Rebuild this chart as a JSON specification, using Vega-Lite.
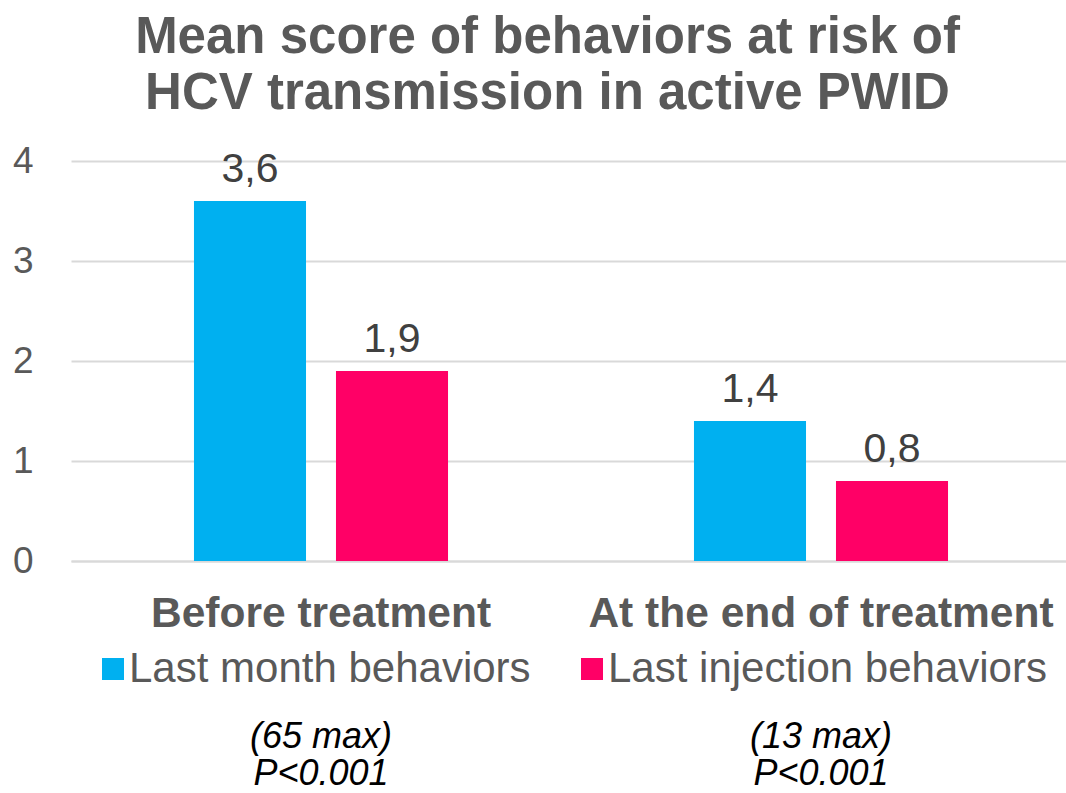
{
  "$schema": "https://vega.github.io/schema/vega-lite/v6.json",
  "width": 995,
  "height": 400,
  "autosize": {"type": "none"},
  "padding": {"left": 71, "top": 161, "right": 0, "bottom": 232},
  "background": "white",
  "config": {
    "font": "Liberation Sans",
    "view": {"stroke": null},
    "locale": {"number": {"decimal": ",", "thousands": ".", "grouping": [3], "currency": ["", "€"]}}
  },
  "title": {
    "text": ["Mean score of behaviors at risk of", "HCV transmission in active PWID"],
    "fontSize": 51,
    "fontWeight": "bold",
    "color": "#595959",
    "anchor": "middle",
    "frame": "group",
    "dx": -21,
    "offset": 22,
    "lineHeight": 56
  },
  "datasets": {
    "bars": [
      {"period": "Before treatment", "series": "Last month behaviors", "score": 3.6},
      {"period": "Before treatment", "series": "Last injection behaviors", "score": 1.9},
      {"period": "At the end of treatment", "series": "Last month behaviors", "score": 1.4},
      {"period": "At the end of treatment", "series": "Last injection behaviors", "score": 0.8}
    ],
    "notes": [
      {"period": "Before treatment", "note": "(65 max)|P<0.001"},
      {"period": "At the end of treatment", "note": "(13 max)|P<0.001"}
    ]
  },
  "layer": [
    {
      "data": {"name": "bars"},
      "mark": {"type": "bar"},
      "encoding": {
        "x": {
          "field": "period", "type": "nominal", "sort": null,
          "scale": {"range": [0, 1000], "paddingInner": 0, "paddingOuter": 0},
          "axis": {
            "title": null, "ticks": false, "domain": true, "domainColor": "#d9d9d9", "domainWidth": 2,
            "labelFontSize": 42.5, "labelFontWeight": "bold", "labelColor": "#595959",
            "labelPadding": 65, "labelBaseline": "alphabetic", "labelAngle": 0, "labelLimit": 600
          }
        },
        "xOffset": {
          "field": "series", "type": "nominal", "sort": null,
          "scale": {"paddingInner": 0.211, "paddingOuter": 0.866}
        },
        "y": {
          "field": "score", "type": "quantitative",
          "scale": {"domain": [0, 4]},
          "axis": {
            "values": [0, 1, 2, 3, 4], "title": null, "domain": false, "ticks": false,
            "labelFontSize": 37, "labelColor": "#595959", "labelPadding": 38,
            "gridColor": "#d9d9d9", "gridWidth": 2, "format": "d"
          }
        },
        "color": {
          "field": "series", "type": "nominal", "sort": null,
          "scale": {"domain": ["Last month behaviors", "Last injection behaviors"], "range": ["#00B0F0", "#FF0066"]},
          "legend": {
            "orient": "none", "legendX": 21, "legendY": 487, "direction": "horizontal", "columns": 2,
            "title": null, "symbolType": "square", "symbolSize": 484, "symbolStrokeWidth": 0,
            "symbolOpacity": 1, "labelFontSize": 42, "labelColor": "#595959", "labelOffset": -5,
            "columnPadding": 40, "labelLimit": 600
          }
        }
      }
    },
    {
      "data": {"name": "bars"},
      "mark": {"type": "text", "dy": -19, "baseline": "alphabetic", "fontSize": 41, "color": "#404040"},
      "encoding": {
        "x": {"field": "period", "type": "nominal", "sort": null},
        "xOffset": {"field": "series", "type": "nominal", "sort": null},
        "y": {"field": "score", "type": "quantitative", "scale": {"domain": [0, 4]}},
        "text": {"field": "score", "type": "quantitative", "format": ".1f"}
      }
    },
    {
      "data": {"name": "notes"},
      "mark": {"type": "text", "fontSize": 36, "fontStyle": "italic", "color": "#000000", "lineBreak": "|", "lineHeight": 37, "baseline": "alphabetic"},
      "encoding": {
        "x": {"field": "period", "type": "nominal", "sort": null},
        "y": {"datum": -1.87, "type": "quantitative", "scale": {"domain": [0, 4]}},
        "text": {"field": "note", "type": "nominal"}
      }
    }
  ]
}
